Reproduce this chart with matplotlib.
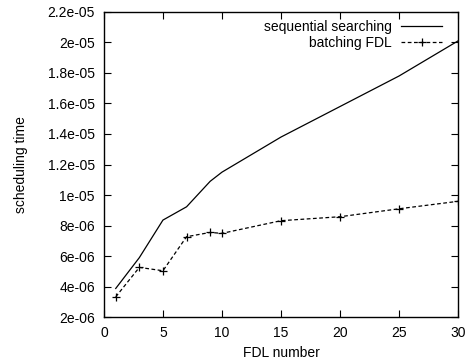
import matplotlib
matplotlib.use("Agg")
import matplotlib.pyplot as plt

plt.rcParams["font.family"] = ["Liberation Sans", "DejaVu Sans"]

fdl = [1, 3, 5, 7, 9, 10, 15, 20, 25, 30]
sequential = [3.88e-6, 5.9e-6, 8.36e-6, 9.23e-6, 1.09e-5, 1.15e-5,
              1.38e-5, 1.58e-5, 1.78e-5, 2.01e-5]
batching = [3.33e-6, 5.26e-6, 5.04e-6, 7.27e-6, 7.55e-6, 7.49e-6,
            8.32e-6, 8.58e-6, 9.1e-6, 9.59e-6]

yticks = [2e-6 * i for i in range(1, 12)]
ylabels = ["2e-06", "4e-06", "6e-06", "8e-06", "1e-05", "1.2e-05",
           "1.4e-05", "1.6e-05", "1.8e-05", "2e-05", "2.2e-05"]

fig = plt.figure(figsize=(4.66, 3.6), dpi=100)
ax = fig.add_axes([0.223, 0.119, 0.76, 0.848])

ax.plot(fdl, sequential, c="k", lw=0.9, label="sequential searching")
ax.plot(fdl, batching, c="k", lw=0.9, ls=(0, (3, 2)), marker="+", ms=6,
        mew=0.9, label="batching FDL")

ax.set_xlim(0, 30)
ax.set_ylim(2e-6, 2.2e-5)
ax.set_xticks([0, 5, 10, 15, 20, 25, 30])
ax.set_yticks(yticks)
ax.set_yticklabels(ylabels)
ax.tick_params(direction="in", top=True, right=True, labelsize=10,
               length=5, pad=6.5)
for s in ax.spines.values():
    s.set_linewidth(1.0)

ax.set_xlabel("FDL number", fontsize=10, labelpad=4)
ax.set_ylabel("scheduling time", fontsize=10, labelpad=14)

ax.legend(loc="upper right", bbox_to_anchor=(1.0, 1.025), frameon=False,
          markerfirst=False, fontsize=10, handlelength=2.95,
          handletextpad=0.7, borderaxespad=0.75, borderpad=0.4,
          labelspacing=0.1)

fig.savefig("out.png")
